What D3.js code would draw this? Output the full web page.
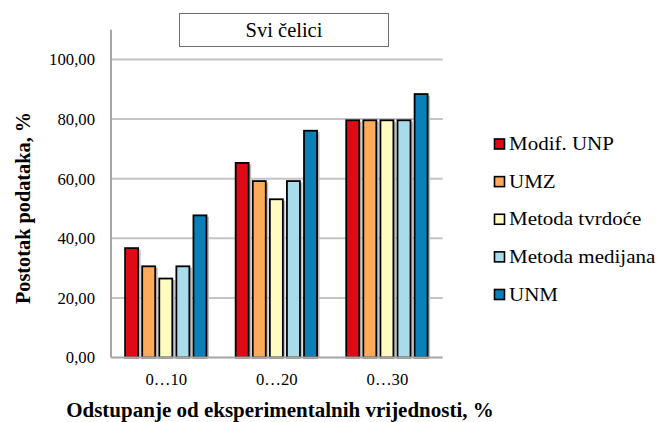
<!DOCTYPE html>
<html>
<head>
<meta charset="utf-8">
<script src="https://cdn.jsdelivr.net/npm/d3@7"></script>
<style>
  html, body { margin: 0; padding: 0; background: #fff; }
  svg { display: block; }
  text { font-family: "Liberation Serif", Tinos, "Times New Roman", serif; fill: #000; }
</style>
</head>
<body>
<svg id="chart" width="657" height="422"></svg>
<script>
const categories = ["0…10", "0…20", "0…30"];
const seriesNames = ["Modif. UNP", "UMZ", "Metoda tvrdoće", "Metoda medijana", "UNM"];
const seriesColors = ["#E00A16", "#FDAA5A", "#FFFBC1", "#A9DCEA", "#0A7FB8"];
const modifUNP = [36.7, 65.3, 79.6];
const umz = [30.6, 59.2, 79.6];
const metodaTvrdoce = [26.5, 53.1, 79.6];
const metodaMedijana = [30.6, 59.2, 79.6];
const unm = [47.7, 76.1, 88.4];
const yTicks = [0, 20, 40, 60, 80, 100];
const yTickLabels = ["0,00", "20,00", "40,00", "60,00", "80,00", "100,00"];
const titleText = "Svi čelici";
const xTitle = "Odstupanje od eksperimentalnih vrijednosti, %";
const yTitle = "Postotak podataka, %";

const seriesValues = [modifUNP, umz, metodaTvrdoce, metodaMedijana, unm];
const FONT = '"Liberation Serif", Tinos, "Times New Roman", serif';

const svg = d3.select("#chart");
svg.append("rect").attr("width", 657).attr("height", 422).attr("fill", "#fff");

const left = 111, right = 442.7;
const y = d3.scaleLinear().domain([0, 110]).range([357.5, 29.7]);
const x0 = d3.scaleBand().domain(categories).range([left, right]).padding(0);
const x1 = d3.scaleBand().domain(seriesNames).range([0, x0.bandwidth()])
  .paddingInner(0.18).paddingOuter(0.825);

// gridlines
svg.append("g").selectAll("line").data(yTicks.filter(d => d > 0)).join("line")
  .attr("x1", left).attr("x2", right)
  .attr("y1", d => y(d)).attr("y2", d => y(d))
  .attr("stroke", "#C4C4C4").attr("stroke-width", 2);

// y tick labels
svg.append("g").selectAll("text").data(yTicks).join("text")
  .attr("x", 95).attr("y", d => y(d)).attr("dy", "0.35em")
  .attr("text-anchor", "end").attr("font-size", 16.7).attr("font-family", FONT)
  .text((d, i) => yTickLabels[i]);

// bars
const groups = svg.append("g").selectAll("g").data(categories).join("g")
  .attr("transform", d => `translate(${x0(d)},0)`);

groups.each(function(cat, ci) {
  const g = d3.select(this);
  const data = seriesNames.map((s, si) => ({ s, si, v: seriesValues[si][ci] }));
  g.selectAll("rect.shadow").data(data).join("rect").attr("class", "shadow")
    .attr("x", d => x1(d.s) + 1.5).attr("y", d => y(d.v) + 1.5)
    .attr("width", x1.bandwidth()).attr("height", d => y(0) - y(d.v) - 1.5)
    .attr("fill", "#BDBDBD");
  g.selectAll("rect.bar").data(data).join("rect").attr("class", "bar")
    .attr("x", d => x1(d.s)).attr("y", d => y(d.v))
    .attr("width", x1.bandwidth() - 1).attr("height", d => y(0) - y(d.v))
    .attr("fill", d => seriesColors[d.si])
    .attr("stroke", "#000").attr("stroke-width", 1.8);
});

// axis lines
svg.append("line").attr("x1", left).attr("x2", left).attr("y1", y(110)).attr("y2", y(0))
  .attr("stroke", "#A6A6A6").attr("stroke-width", 2);
svg.append("line").attr("x1", left).attr("x2", right).attr("y1", y(0)).attr("y2", y(0))
  .attr("stroke", "#A6A6A6").attr("stroke-width", 2);

// x tick labels
svg.append("g").selectAll("text").data(categories).join("text")
  .attr("x", d => x0(d) + x0.bandwidth() / 2).attr("y", 385)
  .attr("text-anchor", "middle").attr("font-size", 16.7).attr("font-family", FONT)
  .text(d => d);

// axis titles
svg.append("text").attr("x", 280).attr("y", 417).attr("text-anchor", "middle")
  .attr("font-size", 21).attr("font-weight", "bold").attr("font-family", FONT).text(xTitle);
svg.append("text").attr("transform", "translate(29.5,208) rotate(-90)")
  .attr("text-anchor", "middle").attr("font-size", 20.3).attr("font-weight", "bold")
  .attr("font-family", FONT).text(yTitle);

// title box
svg.append("rect").attr("x", 179.5).attr("y", 13.5).attr("width", 209).attr("height", 33)
  .attr("fill", "#fff").attr("stroke", "#6E6E6E").attr("stroke-width", 1);
svg.append("text").attr("x", 284).attr("y", 37).attr("text-anchor", "middle")
  .attr("font-size", 20.5).attr("font-family", FONT).text(titleText);

// legend
const legendY = d3.scalePoint().domain(seriesNames).range([144, 294.5]);
const lg = svg.append("g").selectAll("g").data(seriesNames).join("g")
  .attr("transform", d => `translate(494.5,${legendY(d)})`);
lg.append("rect").attr("x", 0).attr("y", -5).attr("width", 10).attr("height", 10)
  .attr("fill", (d, i) => seriesColors[i]).attr("stroke", "#000").attr("stroke-width", 1.6);
lg.append("text").attr("transform", "translate(14.5,0) scale(1.18,1)")
  .attr("dy", "0.35em").attr("font-size", 17.8).attr("font-family", FONT).text(d => d);
</script>
</body>
</html>
